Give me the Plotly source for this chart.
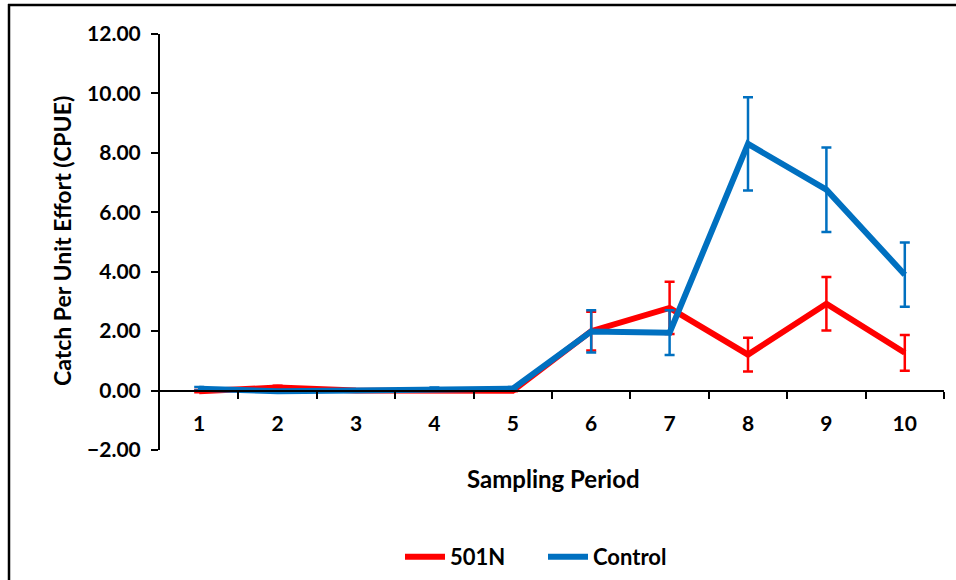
import plotly.graph_objects as go

periods = [1, 2, 3, 4, 5, 6, 7, 8, 9, 10]
tick_labels = ["1", "2", "3", "4", "5", "6", "7", "8", "9", "10"]

n501_values = [-0.02, 0.10, 0.0, 0.0, -0.01, 2.00, 2.78, 1.21, 2.92, 1.27]
n501_errors = [0.04, 0.06, 0.0, 0.02, 0.01, 0.65, 0.88, 0.57, 0.90, 0.60]

control_values = [0.06, -0.02, 0.0, 0.05, 0.06, 1.99, 1.95, 8.30, 6.76, 3.90]
control_errors = [0.06, 0.0, 0.0, 0.05, 0.06, 0.71, 0.75, 1.57, 1.42, 1.08]

FONT = "Lato"
W, H = 956, 580
# target plot-area edges in page pixels
L, R, T, B = 160, 944, 34, 450
PW, PH = R - L, B - T


def px(x):
    return (x - L) / PW


def py(y):
    return (B - y) / PH


fig = go.Figure()

fig.add_trace(go.Scatter(
    x=periods, y=n501_values, name="501N", mode="lines",
    line=dict(color="#FF0000", width=6),
    error_y=dict(type="data", array=n501_errors, visible=True,
                 color="#FF0000", thickness=2.5, width=5),
))
fig.add_trace(go.Scatter(
    x=periods, y=control_values, name="Control", mode="lines",
    line=dict(color="#0070C0", width=6),
    error_y=dict(type="data", array=control_errors, visible=True,
                 color="#0070C0", thickness=2.5, width=5),
))

fig.update_layout(
    width=W, height=H,
    margin=dict(l=L, r=W - R, t=T, b=H - B, autoexpand=False),
    paper_bgcolor="white", plot_bgcolor="white",
    font=dict(family=FONT, color="black", size=21),
    showlegend=True,
    legend=dict(orientation="h", x=px(400), xanchor="left", y=py(557), yanchor="middle",
                font=dict(family=FONT, size=22, color="black", weight="bold"),
                entrywidth=88, entrywidthmode="pixels",
                itemwidth=40, tracegroupgap=0, bgcolor="rgba(0,0,0,0)"),
    xaxis=dict(
        range=[0.5, 10.5],
        tickvals=periods, ticktext=[f"<b>{t}</b>" for t in tick_labels],
        ticks="", ticklen=0,
        showline=True, linecolor="black", linewidth=2,
        showgrid=False, zeroline=False,
        anchor="free", position=2/14,
        ticklabelstandoff=14,
        tickfont=dict(family=FONT, size=21, color="black"),
        minor=dict(tickvals=[1.5, 2.5, 3.5, 4.5, 5.5, 6.5, 7.5, 8.5, 9.5, 10.5],
                   ticks="outside", ticklen=7, tickwidth=2, tickcolor="black",
                   showgrid=False),
    ),
    yaxis=dict(
        range=[-2, 12], dtick=2, tick0=0, tickformat=".2f",
        ticks="outside", ticklen=7, tickwidth=2, tickcolor="black",
        showline=True, linecolor="black", linewidth=2,
        showgrid=False, zeroline=False,
        ticklabelstandoff=6,
        tickfont=dict(family=FONT, size=21, color="black", weight="bold"),
    ),
    annotations=[
        dict(text="<b>Catch Per Unit Effort (CPUE)</b>", xref="paper", yref="paper",
             x=px(62), y=py(241), textangle=-90,
             xanchor="center", yanchor="middle", showarrow=False,
             font=dict(family=FONT, size=23, color="black")),
        dict(text="<b>Sampling Period</b>", xref="paper", yref="paper",
             x=px(553), y=py(478),
             xanchor="center", yanchor="middle", showarrow=False,
             font=dict(family=FONT, size=24, color="black")),
    ],
    shapes=[
        dict(type="line", xref="paper", yref="paper",
             x0=px(8), x1=px(956), y0=py(5), y1=py(5),
             line=dict(color="black", width=2.5)),
        dict(type="line", xref="paper", yref="paper",
             x0=px(9), x1=px(9), y0=py(4), y1=py(580),
             line=dict(color="black", width=2.5)),
    ],
)

fig.write_html(
    "out.html",
    config={"displayModeBar": False},
    post_script="document.body.style.margin='0px';",
)
